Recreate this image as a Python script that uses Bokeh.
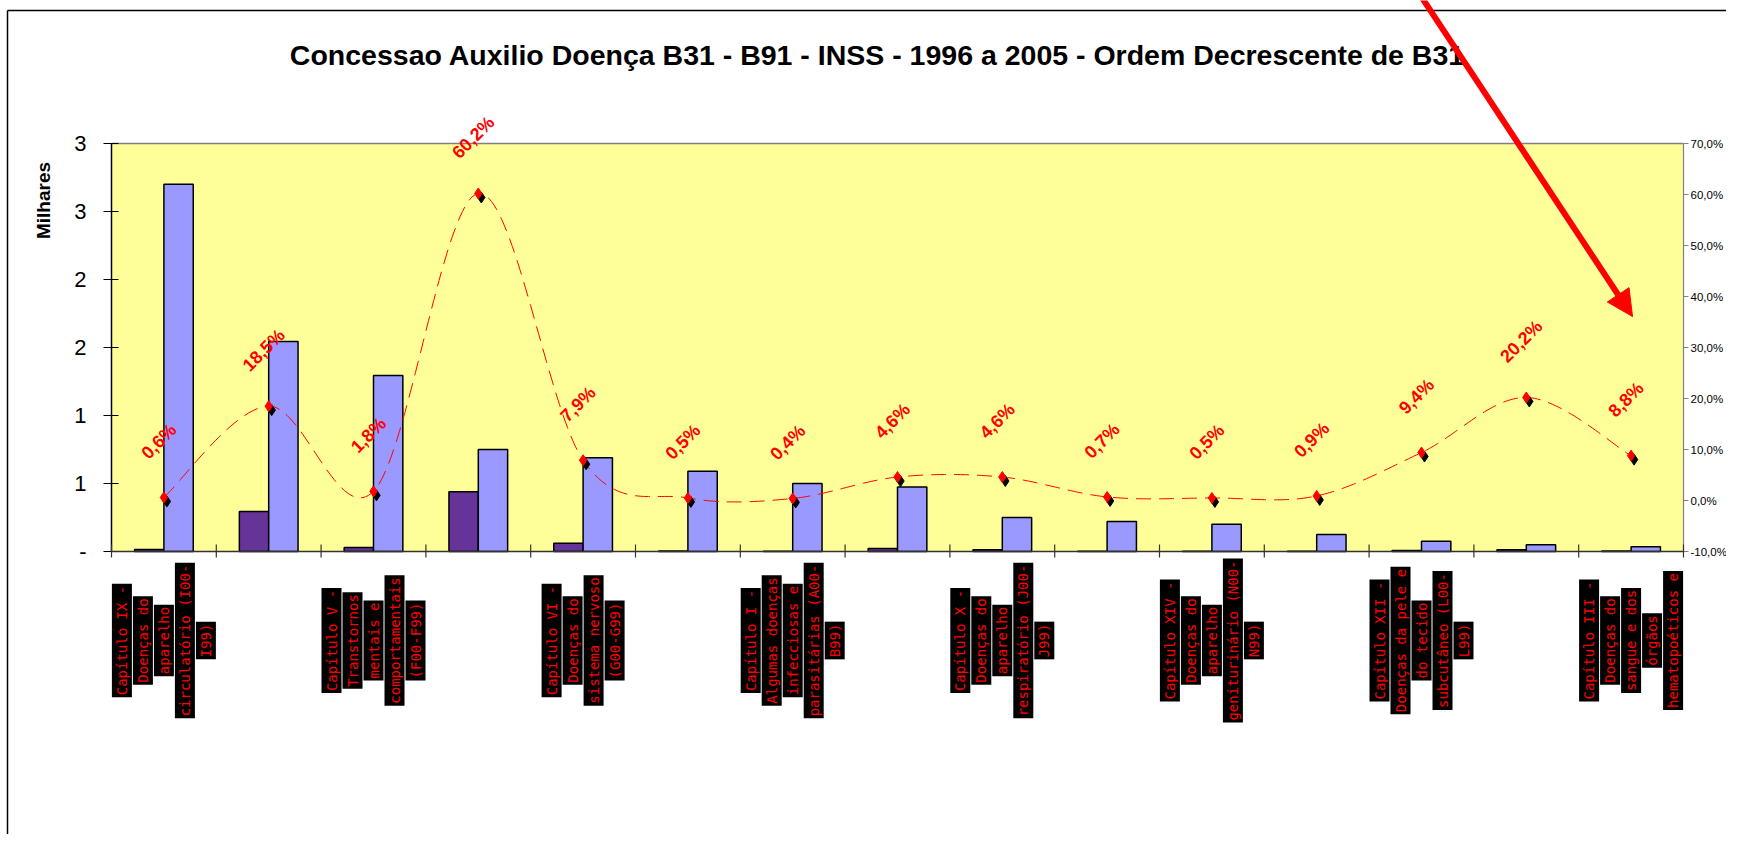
import numpy as np
from bokeh.plotting import figure
from bokeh.models import Range1d, Arrow, NormalHead
from bokeh.core.properties import value
from bokeh.embed import file_html
from bokeh.resources import INLINE

# ---------------- data ----------------
category_lines = [
    ["Capítulo IX -", "Doenças do", "aparelho", "circulatório (I00-", "I99)"],
    [],
    ["Capítulo V -", "Transtornos", "mentais e", "comportamentais", "(F00-F99)"],
    [],
    ["Capítulo VI -", "Doenças do", "sistema nervoso", "(G00-G99)"],
    [],
    ["Capítulo I -", "Algumas doenças", "infecciosas e", "parasitárias (A00-", "B99)"],
    [],
    ["Capítulo X -", "Doenças do", "aparelho", "respiratório (J00-", "J99)"],
    [],
    ["Capítulo XIV -", "Doenças do", "aparelho", "geniturinário (N00-", "N99)"],
    [],
    ["Capítulo XII -", "Doenças da pele e", "do tecido", "subcutâneo (L00-", "L99)"],
    [],
    ["Capítulo III -", "Doenças do", "sangue e dos", "órgãos", "hematopoéticos e"],
]
# B31 (light blue) and B91 (dark purple), in thousands (Milhares)
b31 = [2.70, 1.545, 1.295, 0.75, 0.69, 0.59, 0.50, 0.475, 0.25, 0.22, 0.20, 0.125, 0.075, 0.05, 0.035]
b91 = [0.015, 0.294, 0.030, 0.44, 0.060, 0.003, 0.002, 0.022, 0.012, 0.0015, 0.001, 0.001, 0.007, 0.012, 0.003]
# B91 / B31 ratio (%), right axis
pct = [0.6, 18.5, 1.8, 60.2, 7.9, 0.5, 0.4, 4.6, 4.6, 0.7, 0.5, 0.9, 9.4, 20.2, 8.8]

left_ticks = [0.0, 0.5, 1.0, 1.5, 2.0, 2.5, 3.0]
left_tick_labels = ["-", "1", "1", "2", "2", "3", "3"]
right_ticks = [-10, 0, 10, 20, 30, 40, 50, 60, 70]
right_tick_labels = ["-10,0%", "0,0%", "10,0%", "20,0%", "30,0%", "40,0%", "50,0%", "60,0%", "70,0%"]

title_text = "Concessao Auxilio Doença B31 - B91 - INSS - 1996 a 2005 - Ordem Decrescente de B31"
y_title = "Milhares"

# ---------------- layout (canvas pixels) ----------------
W, H = 1726, 834
FL, FT, FR, FB = 111, 143, 1683, 551          # plot area box
N = len(b31)
PXX = (FR - FL) / N
Y0, Y1 = 0.0, 3.0
P0, P1 = -10.0, 70.0
PXY = (FB - FT) / (Y1 - Y0)
PXP = (FB - FT) / (P1 - P0)


def dx(c):
    return (c - FL) / PXX


def dy(c):
    return Y0 + (FB - c) / PXY


def dp(c):
    return P0 + (FB - c) / PXP


p = figure(width=W, height=H, output_backend="svg", toolbar_location=None,
           x_range=Range1d(dx(0), dx(W)), y_range=Range1d(dy(H), dy(0)),
           x_axis_location=None, y_axis_location=None,
           min_border=0, min_border_left=0, min_border_right=0,
           min_border_top=0, min_border_bottom=0)
p.extra_y_ranges = {"pct": Range1d(dp(H), dp(0))}
p.background_fill_color = "white"
p.border_fill_color = "white"
p.outline_line_color = None
p.xgrid.visible = False
p.ygrid.visible = False

# plot area
p.quad(left=0, right=N, bottom=Y0, top=Y1, fill_color="#FFFF99", line_color=None)
p.segment(x0=0, y0=Y1, x1=N, y1=Y1, line_color="#808080", line_width=1.5)

# ---------------- bars ----------------
idx = np.arange(N)
centers = idx + 0.5
BW = 0.28
p.vbar(x=centers - BW / 2, top=b91, bottom=0, width=BW,
       fill_color="#663399", line_color="black", line_width=1.5)
p.vbar(x=centers + BW / 2, top=b31, bottom=0, width=BW,
       fill_color="#9999FF", line_color="black", line_width=1.5)

# ---------------- axes (drawn on the chart's scales) ----------------
lt = np.array(left_ticks)
p.segment(x0=0, y0=Y0, x1=0, y1=Y1, line_color="black", line_width=1.5)
p.segment(x0=-8 / PXX, y0=lt, x1=7 / PXX, y1=lt, line_color="black", line_width=1.2)
p.text(x=-(8 + 17) / PXX, y=lt, text=left_tick_labels, text_align="right",
       text_baseline="middle", text_font=value("Liberation Sans"),
       text_font_size="22px", text_color="black")

rt = np.array(right_ticks, dtype=float)
p.segment(x0=N, y0=P0, x1=N, y1=P1, y_range_name="pct", line_color="#808080", line_width=1.2)
p.segment(x0=N, y0=rt, x1=N + 5 / PXX, y1=rt, y_range_name="pct",
          line_color="#808080", line_width=1)
p.text(x=N + 7 / PXX, y=rt, text=right_tick_labels, y_range_name="pct",
       text_align="left", text_baseline="middle", text_font=value("Liberation Sans"),
       text_font_size="11.5px", text_color="black")

xt = np.arange(N + 1, dtype=float)
p.segment(x0=0, y0=Y0, x1=N, y1=Y0, line_color="#333333", line_width=1.5)
p.segment(x0=xt, y0=Y0 - 6 / PXY, x1=xt, y1=Y0 + 7 / PXY, line_color="#333333", line_width=1.2)


# ---------------- smoothed ratio line ----------------
def smooth(xs, ys, steps=40):
    pts = np.column_stack([xs, ys]).astype(float)
    P = np.vstack([pts[0], pts, pts[-1]])
    out = []
    for i in range(1, len(P) - 2):
        p0, p1, p2, p3 = P[i - 1], P[i], P[i + 1], P[i + 2]
        c1 = p1 + (p2 - p0) / 6.0
        c2 = p2 - (p3 - p1) / 6.0
        t = np.linspace(0, 1, steps, endpoint=(i == len(P) - 3))[:, None]
        seg = ((1 - t) ** 3) * p1 + 3 * ((1 - t) ** 2) * t * c1 + 3 * (1 - t) * t * t * c2 + t ** 3 * p2
        out.append(seg)
    out = np.vstack(out)
    return out[:, 0], out[:, 1]


sx, sy = smooth(centers, pct)
p.line(sx, sy, y_range_name="pct", line_color="red", line_width=1, line_dash="15 8")

pa = np.array(pct)
p.scatter(x=centers + 3.0 / PXX, y=pa - 4.0 / PXP, y_range_name="pct", marker="diamond",
          size=11, fill_color="black", line_color="black")
p.scatter(x=centers, y=pa, y_range_name="pct", marker="diamond",
          size=11, fill_color="red", line_color="red")

# percentage labels
p.text(x=centers - 5.0 / PXX, y=pa + 56.0 / PXP,
       text=[("%.1f" % v).replace(".", ",") + "%" for v in pct], y_range_name="pct",
       angle=np.pi / 4, text_align="center", text_baseline="middle",
       text_font=value("Liberation Sans"), text_font_size="18px",
       text_font_style="bold", text_color="red")

# ---------------- category labels (rotated, red on black) ----------------
cx, cy, ct = [], [], []
for i, lines in enumerate(category_lines):
    n = len(lines)
    for j, s in enumerate(lines):
        cx.append(centers[i] + (j - (n - 1) / 2.0) * 21.0 / PXX)
        cy.append(dy(640))
        ct.append(s)
p.text(x=cx, y=cy, text=ct, angle=np.pi / 2, text_align="center", text_baseline="middle",
       text_font=value("DejaVu Sans Mono"), text_font_size="14px", text_color="red",
       background_fill_color="black", padding=2)

# ---------------- titles ----------------
p.text(x=[dx(877)], y=[dy(54)], text=[title_text], text_align="center",
       text_baseline="middle", text_font=value("Liberation Sans"),
       text_font_size="28.5px", text_font_style="bold", text_color="black")
p.text(x=[dx(43)], y=[dy(200)], text=[y_title], angle=np.pi / 2,
       text_align="center", text_baseline="middle", text_font=value("Liberation Sans"),
       text_font_size="19px", text_font_style="bold", text_color="black")

# ---------------- chart-area border ----------------
p.segment(x0=dx(7), y0=dy(10), x1=dx(7), y1=dy(H + 5), line_color="black", line_width=1.5)
p.segment(x0=dx(7), y0=dy(10), x1=dx(W + 5), y1=dy(10), line_color="black", line_width=1.5)

# ---------------- red pointer arrow ----------------
p.add_layout(Arrow(end=NormalHead(size=26, fill_color="red", line_color="red"),
                   x_start=dx(1420), y_start=dy(-5), x_end=dx(1632), y_end=dy(316),
                   line_color="red", line_width=6))

open("out.html", "w").write(file_html(p, INLINE))
